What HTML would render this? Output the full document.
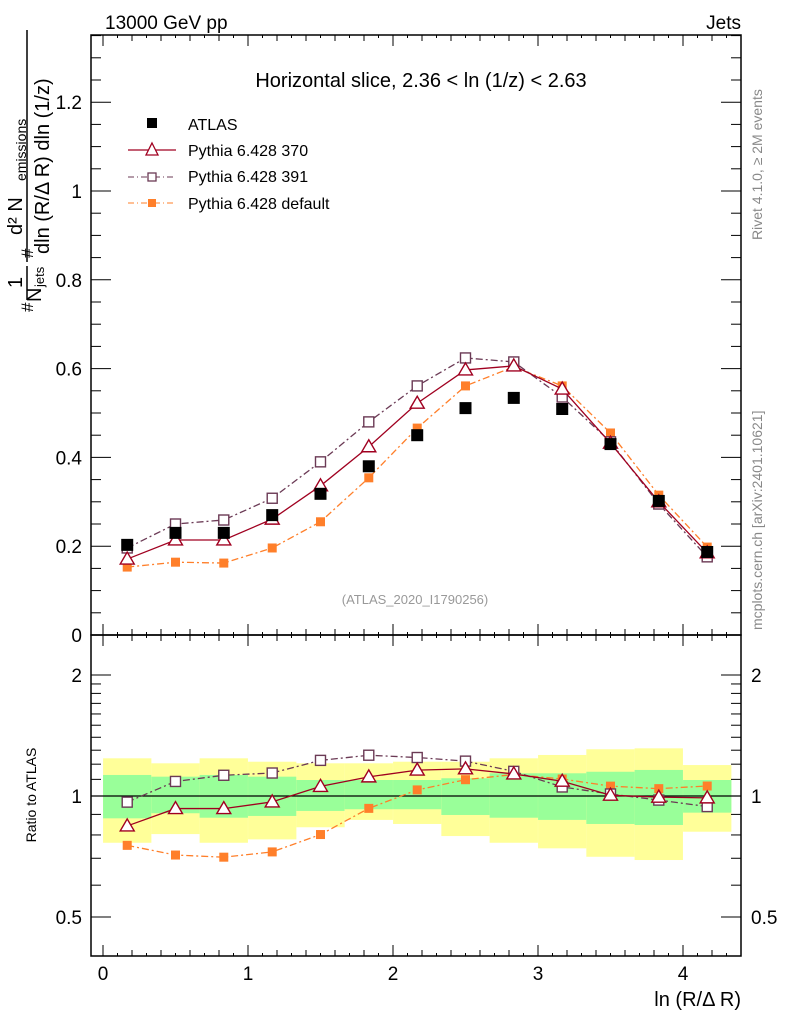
<!DOCTYPE html>
<html><head><meta charset="utf-8"><style>
body{margin:0;background:#fff}
svg{display:block;font-family:"Liberation Sans",sans-serif}
</style></head><body>
<svg id="c" width="786" height="1024" viewBox="0 0 786 1024" xmlns="http://www.w3.org/2000/svg">
<text x="105" y="29" font-size="19">13000 GeV pp</text>
<text x="741" y="29" font-size="19" text-anchor="end">Jets</text>
<g id="bands"></g>
<g id="axes"></g>
<g id="series"></g>
<text x="421" y="87" font-size="20" text-anchor="middle">Horizontal slice, 2.36 &lt; ln (1/z) &lt; 2.63</text>
<text x="415" y="604" font-size="13" fill="#999" text-anchor="middle">(ATLAS_2020_I1790256)</text>
<g font-size="16">
<rect x="147" y="118" width="10" height="10" fill="#000"/>
<text x="188" y="130">ATLAS</text>
<line x1="128" y1="150" x2="176" y2="150" stroke="#a00020" stroke-width="1.3"/>
<path d="M152,143 L158,155 L146,155 Z" fill="#fff" stroke="#a00020" stroke-width="1.3"/>
<text x="188" y="156">Pythia 6.428 370</text>
<line x1="128" y1="177" x2="176" y2="177" stroke="#6b3a55" stroke-width="1.1" stroke-dasharray="6,3,1,3"/>
<rect x="148" y="173" width="8" height="8" fill="#fff" stroke="#6b3a55" stroke-width="1.3"/>
<text x="188" y="182">Pythia 6.428 391</text>
<line x1="128" y1="203" x2="176" y2="203" stroke="#ff7f2a" stroke-width="1.1" stroke-dasharray="6,3,1,3"/>
<rect x="148" y="199" width="8" height="8" fill="#ff7f2a"/>
<text x="188" y="209">Pythia 6.428 default</text>
</g>
<g font-size="20">
<line x1="27" y1="30" x2="27" y2="262" stroke="#000" stroke-width="1.5"/>
<text transform="translate(22,235) rotate(-90)">d² N</text>
<text transform="translate(26,181) rotate(-90)" font-size="14">emissions</text>
<text transform="translate(49,254) rotate(-90)">dln (R/Δ R) dln (1/z)</text>
<text transform="translate(33,258) rotate(-90)" font-size="17">#</text>
<line x1="27" y1="266" x2="27" y2="300" stroke="#000" stroke-width="1.5"/>
<text transform="translate(22,288) rotate(-90)">1</text>
<text transform="translate(41,302) rotate(-90)">N</text>
<text transform="translate(44,287) rotate(-90)" font-size="13">jets</text>
<text transform="translate(33,312) rotate(-90)" font-size="17">#</text>
</g>
<text transform="translate(36,795) rotate(-90)" font-size="14" text-anchor="middle">Ratio to ATLAS</text>
<text x="741" y="1006" font-size="20" text-anchor="end">ln (R/Δ R)</text>
<text transform="translate(762,240) rotate(-90)" font-size="14" fill="#888">Rivet 4.1.0, ≥ 2M events</text>
<text transform="translate(762,630) rotate(-90)" font-size="14" fill="#888">mcplots.cern.ch [arXiv:2401.10621]</text>
</svg>
<script>
const xCenters=[0.167,0.5,0.833,1.167,1.5,1.833,2.167,2.5,2.833,3.167,3.5,3.833,4.167];
const atlas=[0.203,0.23,0.23,0.27,0.318,0.38,0.45,0.511,0.534,0.509,0.43,0.302,0.187];
const p370=[0.171,0.214,0.214,0.261,0.336,0.424,0.522,0.597,0.606,0.554,0.432,0.30,0.185];
const p391=[0.196,0.25,0.259,0.308,0.39,0.48,0.561,0.624,0.615,0.536,0.435,0.295,0.176];
const pdef=[0.153,0.164,0.162,0.196,0.255,0.354,0.466,0.561,0.604,0.561,0.455,0.315,0.198];
const bandTotUp=[1.241,1.206,1.241,1.217,1.206,1.206,1.217,1.217,1.241,1.265,1.307,1.314,1.194];
const bandTotDn=[0.765,0.804,0.765,0.780,0.836,0.872,0.852,0.795,0.765,0.741,0.706,0.693,0.815];
const bandStatUp=[1.128,1.117,1.128,1.117,1.096,1.096,1.096,1.107,1.139,1.139,1.149,1.161,1.096];
const bandStatDn=[0.880,0.906,0.883,0.892,0.918,0.927,0.927,0.897,0.883,0.872,0.852,0.847,0.909];
const mainYTicks=[0,0.2,0.4,0.6,0.8,1,1.2];
const mainYLabels=["0","0.2","0.4","0.6","0.8","1","1.2"];
const ratioTicks=[0.5,1,2];
const ratioLabels=["0.5","1","2"];
const xTicks=[0,1,2,3,4];
const xLabels=["0","1","2","3","4"];

const NS="http://www.w3.org/2000/svg";
const L=91,R=741,T=35,MB=635,RB=956;
const X=v=>103+145*v;
const Y=v=>635-444*v;
const YR=r=>796-121*Math.log2(r);
function mk(tag,at,parent){const e=document.createElementNS(NS,tag);for(const k in at)e.setAttribute(k,at[k]);parent.appendChild(e);return e;}
const ax=document.getElementById('axes'),bd=document.getElementById('bands'),sr=document.getElementById('series');
const hw=145/6;
xCenters.forEach((c,i)=>{
 let r=mk('rect',{x:X(c)-hw,y:YR(bandTotUp[i]),width:2*hw,height:YR(bandTotDn[i])-YR(bandTotUp[i]),fill:'#ffff99'},bd);
 
 
 let g=mk('rect',{x:X(c)-hw,y:YR(bandStatUp[i]),width:2*hw,height:YR(bandStatDn[i])-YR(bandStatUp[i]),fill:'#99ff99'},bd);
 
 
});
mk('rect',{x:L,y:T,width:R-L,height:MB-T,fill:'none',stroke:'#000','stroke-width':1.5},ax);
mk('rect',{x:L,y:MB,width:R-L,height:RB-MB,fill:'none',stroke:'#000','stroke-width':1.5},ax);
mk('line',{x1:L,x2:R,y1:YR(1),y2:YR(1),stroke:'#000','stroke-width':1.2},ax);
for(let v=0;v<=1.351;v+=0.05){const y=Y(v);if(y<T)break;const maj=Math.abs(v/0.2-Math.round(v/0.2))<1e-6;const len=maj?20:10;
 mk('line',{x1:L,x2:L+len,y1:y,y2:y,stroke:'#000'},ax);mk('line',{x1:R,x2:R-len,y1:y,y2:y,stroke:'#000'},ax);}
mainYTicks.forEach((v,i)=>{const t=mk('text',{x:82,y:Y(v)+7,'font-size':19,'text-anchor':'end'},ax);t.textContent=mainYLabels[i];
 
 });
for(let k=-8;k<=46;k++){const v=k/10;const x=X(v);if(x<L||x>R)continue;const len=(k%10===0)?11:(k%2===0?6:3);
 [[T,1],[MB,-1],[MB,1],[RB,-1]].forEach(([y0,d])=>mk('line',{x1:x,x2:x,y1:y0,y2:y0+d*len,stroke:'#000'},ax));}
xTicks.forEach((v,i)=>{const t=mk('text',{x:X(v),y:980,'font-size':19,'text-anchor':'middle'},ax);t.textContent=xLabels[i];
 
 });
[0.5,0.6,0.7,0.8,0.9,1,1.1,1.2,1.3,1.4,1.5,1.6,1.7,1.8,1.9,2].forEach(r=>{const y=YR(r);const maj=ratioTicks.includes(r);const len=maj?20:10;
 mk('line',{x1:L,x2:L+len,y1:y,y2:y,stroke:'#000'},ax);mk('line',{x1:R,x2:R-len,y1:y,y2:y,stroke:'#000'},ax);});
ratioTicks.forEach((v,i)=>{
 const t=mk('text',{x:82,y:YR(v)+7,'font-size':19,'text-anchor':'end'},ax);t.textContent=ratioLabels[i];
 
 
 const t2=mk('text',{x:751,y:YR(v)+7,'font-size':19},ax);t2.textContent=ratioLabels[i];
 
 });
function marker(type,x,y,col,g){
 if(type==='tri')return mk('path',{d:`M${x},${y-7} L${x+7},${y+5} L${x-7},${y+5} Z`,fill:'#fff',stroke:col,'stroke-width':1.4},g);
 if(type==='osq')return mk('rect',{x:x-5,y:y-5,width:10,height:10,fill:'#fff',stroke:col,'stroke-width':1.4},g);
 if(type==='fsq')return mk('rect',{x:x-4.5,y:y-4.5,width:9,height:9,fill:col},g);
 return mk('rect',{x:x-6,y:y-6,width:12,height:12,fill:col},g);
}
function draw(vals,yf,col,dash,type,name){
 const g=mk('g',{},sr);
 
 
 if(dash!==null){const pts=vals.map((v,i)=>X(xCenters[i])+','+yf(v,i)).join(' ');
  const a={points:pts,fill:'none',stroke:col,'stroke-width':1.3};if(dash)a['stroke-dasharray']=dash;mk('polyline',a,g);}
 vals.forEach((v,i)=>{const m=marker(type,X(xCenters[i]),yf(v,i),col,g);
  
  });
}
const ratio=arr=>arr.map((v,i)=>v/atlas[i]);
draw(pdef,v=>Y(v),'#ff7f2a','7,3,2,3','fsq','series-default');
draw(p391,v=>Y(v),'#6b3a55','7,3,2,3','osq','series-391');
draw(p370,v=>Y(v),'#a00020','','tri','series-370');
draw(atlas,v=>Y(v),'#000',null,'dat','series-atlas');
draw(ratio(pdef),v=>YR(v),'#ff7f2a','7,3,2,3','fsq','ratio-default');
draw(ratio(p391),v=>YR(v),'#6b3a55','7,3,2,3','osq','ratio-391');
draw(ratio(p370),v=>YR(v),'#a00020','','tri','ratio-370');
</script>
</body></html>
